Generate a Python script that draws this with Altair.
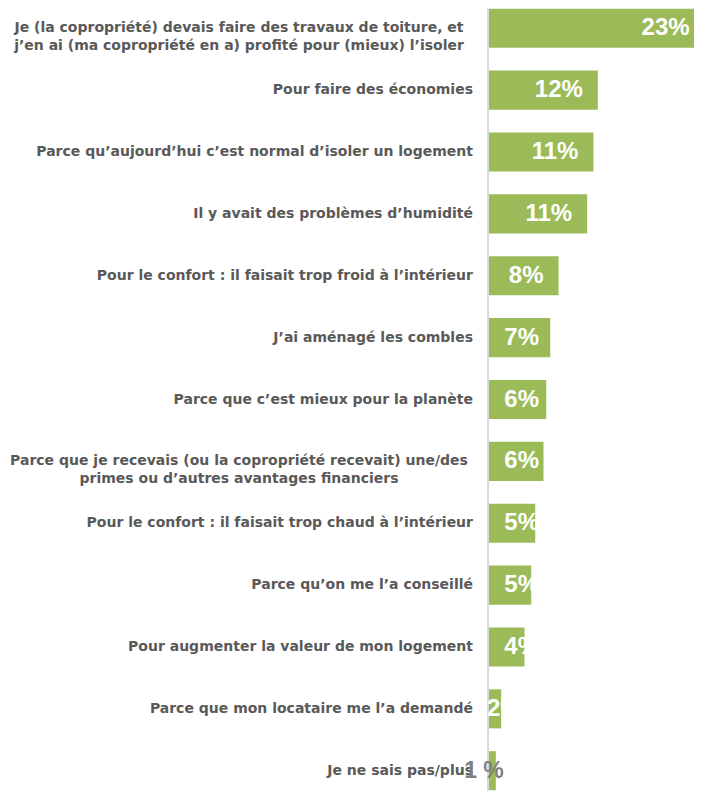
import altair as alt
import pandas as pd

categories = [
    "Je (la copropriété) devais faire des travaux de toiture, et\nj’en ai (ma copropriété en a) profité pour (mieux) l’isoler",
    "Pour faire des économies",
    "Parce qu’aujourd’hui c’est normal d’isoler un logement",
    "Il y avait des problèmes d’humidité",
    "Pour le confort : il faisait trop froid à l’intérieur",
    "J’ai aménagé les combles",
    "Parce que c’est mieux pour la planète",
    "Parce que je recevais (ou la copropriété recevait) une/des\nprimes ou d’autres avantages financiers",
    "Pour le confort : il faisait trop chaud à l’intérieur",
    "Parce qu’on me l’a conseillé",
    "Pour augmenter la valeur de mon logement",
    "Parce que mon locataire me l’a demandé",
    "Je ne sais pas/plus",
]
values = [23.7, 11.96, 11.48, 10.79, 7.64, 6.73, 6.29, 5.99, 5.08, 4.64, 3.90, 1.34, 0.75]
value_labels = ["23%", "12%", "11%", "11%", "8%", "7%", "6%", "6%", "5%", "5%", "4%", "2%", "1 %"]

df = pd.DataFrame({"cat": categories, "v": values, "lab": value_labels})
df["multi"] = df["cat"].str.contains("\n")

W, H = 205, 783
xs = alt.Scale(domain=[0, W / 9.1], nice=False, zero=True)
y = alt.Y("cat:N", sort=categories, axis=None,
          scale=alt.Scale(paddingInner=0.369, paddingOuter=0.012))

base = alt.Chart(df)

rule = base.mark_rule(color="#d9d9d9", strokeWidth=2).encode(
    x=alt.value(-1), y=alt.value(0), y2=alt.value(H)
)

bars = base.mark_bar(color="#9bbb59").encode(
    x=alt.X("v:Q", scale=xs, axis=None), y=y
)

val_big = base.transform_filter("datum.v >= 2").transform_calculate(
    lx="max(datum.v, 7.14)"
).mark_text(
    align="right", baseline="middle", dx=-15, font="Liberation Sans",
    fontWeight="bold", fontSize=24, color="white"
).encode(x=alt.X("lx:Q", scale=xs, axis=None), y=y, text="lab:N")

val_small = base.transform_filter("datum.v >= 1 && datum.v < 2").mark_text(
    align="left", baseline="middle", font="Liberation Sans",
    fontWeight="bold", fontSize=24, color="white"
).encode(x=alt.value(-2), y=y, text="lab:N")

val_tiny = base.transform_filter("datum.v < 1").mark_text(
    align="right", baseline="middle", dx=8, font="Liberation Sans",
    fontWeight="bold", fontSize=23, color="#7f7f7f"
).encode(x=alt.X("v:Q", scale=xs, axis=None), y=y, text="lab:N")

cat_single = base.transform_filter("!datum.multi").mark_text(
    align="right", baseline="middle", font="DejaVu Sans", fontWeight="bold",
    fontSize=14, color="#595959"
).encode(x=alt.value(-16), y=y, text="cat:N")

cat_multi = base.transform_filter("datum.multi").mark_text(
    align="center", baseline="middle", font="DejaVu Sans", fontWeight="bold",
    fontSize=14, color="#595959", lineBreak="\n", lineHeight=18
).encode(x=alt.value(-250), y=y, text="cat:N")

chart = alt.layer(rule, bars, val_big, val_small, cat_single, cat_multi, val_tiny).properties(
    width=W, height=H,
    autosize=alt.AutoSizeParams(type="none"),
    padding={"left": 481, "top": 0, "right": 0, "bottom": 0},
).configure_view(stroke=None)

chart.save("out.html", embed_options={"renderer": "svg", "actions": False})
